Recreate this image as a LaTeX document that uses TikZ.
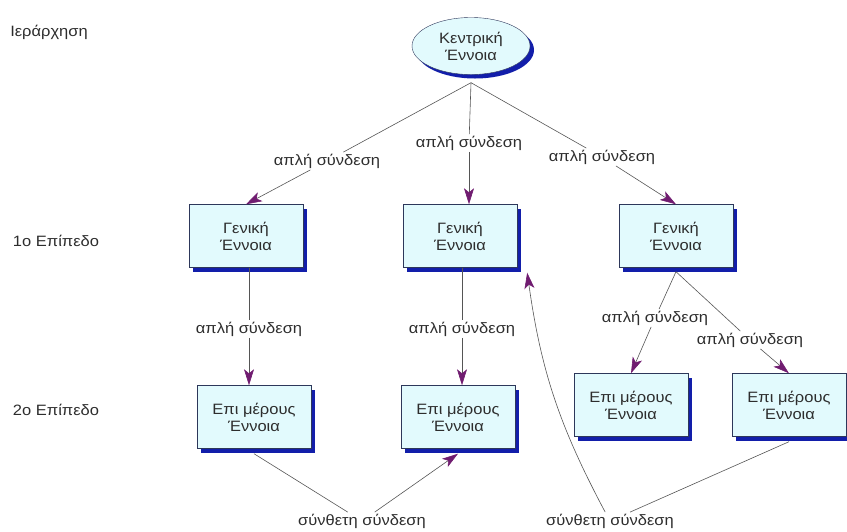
\documentclass[tikz,border=0pt]{standalone}
\usepackage{fontspec}
\setmainfont[FakeStretch=1.1]{Liberation Sans}
\usetikzlibrary{arrows.meta,shapes.geometric,shadows,positioning}
\definecolor{boxfill}{RGB}{226,250,253}
\definecolor{boxborder}{RGB}{45,55,90}
\definecolor{shadowblue}{RGB}{18,30,170}
\definecolor{arrowpurple}{RGB}{112,28,112}
\definecolor{linegray}{RGB}{85,85,85}
\definecolor{textgray}{RGB}{45,45,45}
\tikzset{
    %Define standard arrow tip
    >={Stealth[length=16pt,width=10pt,inset=4pt,color=arrowpurple]},
    %Define style for the central concept
    central/.style={
           ellipse,
           draw=boxborder,
           fill=boxfill,
           minimum width=118pt,
           minimum height=57pt,
           font=\fontsize{15}{17}\selectfont,
           text=textgray,
           align=center,
           drop shadow={shadow xshift=4pt, shadow yshift=-4pt,
                        fill=shadowblue, opacity=1}
           },
    %Define style for boxes
    concept/.style={
           rectangle,
           draw=boxborder,
           fill=boxfill,
           minimum width=114pt,
           minimum height=63pt,
           font=\fontsize{15}{17}\selectfont,
           text=textgray,
           align=center,
           drop shadow={shadow xshift=4pt, shadow yshift=-4pt,
                        fill=shadowblue, opacity=1}
           },
    linklabel/.style={
           inner sep=1.5pt,
           font=\fontsize{15}{17}\selectfont,
           text=textgray
           },
    levellabel/.style={
           inner sep=0pt,
           font=\fontsize{15}{17}\selectfont,
           text=textgray
           },
    % Define connector style
    link/.style={
           draw=linegray,
           line width=0.6pt}
}

\begin{document}
\begin{tikzpicture}[x=1pt,y=-1pt]
\useasboundingbox (0,0) rectangle (847,531);
 %levels
\node[levellabel] (hier) at (49,32) {Ιεράρχηση};
\node[levellabel] (lev1) at (56,241) {1ο Επίπεδο};
\node[levellabel] (lev2) at (56,410) {2ο Επίπεδο};
 %nodes
\node[central] (core) at (471,46) {Κεντρική\\Έννοια};
\coordinate (root) at ([yshift=-8pt]core.south);
\node[concept] (g1) at (246,236) {Γενική\\Έννοια};
\node[concept] (g2) at (460,236) {Γενική\\Έννοια};
\node[concept] (g3) at (676,236) {Γενική\\Έννοια};
\node[concept] (p1) at (254,417) {Επι μέρους\\Έννοια};
\node[concept] (p2) at (458,417) {Επι μέρους\\Έννοια};
\node[concept] (p3) at (631,405) {Επι μέρους\\Έννοια};
\node[concept] (p4) at (789,405) {Επι μέρους\\Έννοια};
 %link labels
\node[linklabel] (s1) at (327,161) {απλή σύνδεση};
\node[linklabel] (s2) at (469,143) {απλή σύνδεση};
\node[linklabel] (s3) at (602,157) {απλή σύνδεση};
\node[linklabel] (s4) at (249,329) {απλή σύνδεση};
\node[linklabel] (s5) at (462,329) {απλή σύνδεση};
\node[linklabel] (s6) at (655,318) {απλή σύνδεση};
\node[linklabel] (s7) at (750,340) {απλή σύνδεση};
\node[linklabel] (c1) at (362,521) {σύνθετη σύνδεση};
\node[linklabel] (c2) at (610,521) {σύνθετη σύνδεση};
\coordinate (g3foot) at ([yshift=-4pt]g3.south);
 \path[link]
   (root) edge (s1) edge (s2) edge (s3)
   (s1) edge[->] (g1.north)
   (s2) edge[->] (s2 |- g2.north)
   (s3) edge[->] (g3.north)
   (g1.south -| s4) edge (s4)
   (s4) edge[->] (s4 |- p1.north)
   (g2.south -| s5) edge (s5)
   (s5) edge[->] (s5 |- p2.north)
   (g3foot) edge (s6) edge (s7)
   (s6) edge[->] (p3.north)
   (s7) edge[->] (p4.north)
   ([yshift=-5pt]p1.south) edge (c1)
   (c1) edge[->] ([yshift=-5pt]p2.south)
   ([yshift=-5pt]p4.south) edge (c2)
   (c2) edge[->, bend left=10] ([shift={(10pt,-5pt)}]g2.south east);
\end{tikzpicture}
\end{document}
